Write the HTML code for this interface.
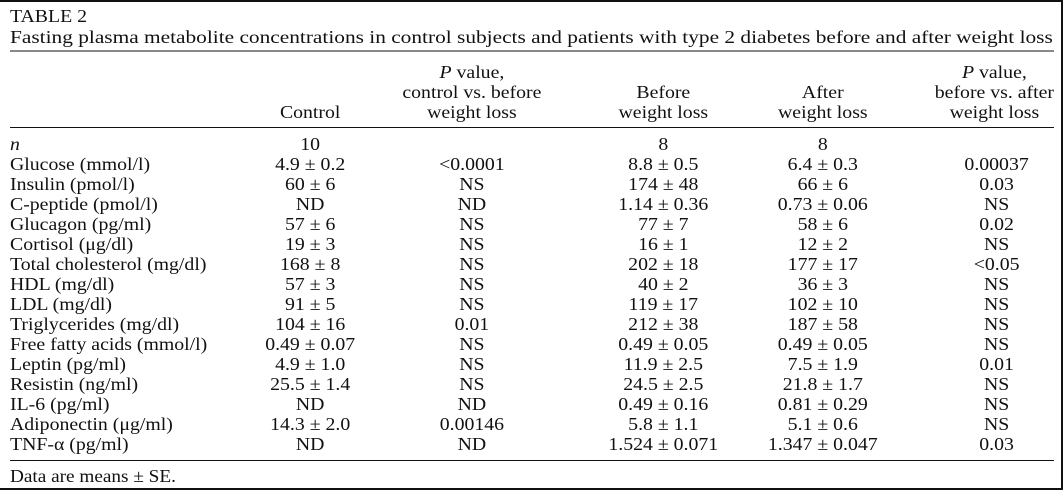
<!DOCTYPE html>
<html><head><meta charset="utf-8"><style>
body{margin:0;background:#fff;}
svg{display:block;font-family:"Liberation Serif",serif;font-size:18px;fill:#111;}
</style></head><body>
<svg width="1063" height="490" viewBox="0 0 1063 490">
<rect x="0" y="0" width="1063" height="2" fill="#111"/>
<rect x="1061" y="0" width="2" height="490" fill="#111"/>
<rect x="10" y="50" width="1044" height="2" fill="#888"/>
<rect x="10" y="127" width="1044" height="1" fill="#111"/>
<rect x="10" y="460" width="1044" height="1" fill="#111"/>
<rect x="0" y="488" width="1063" height="2" fill="#111"/>
<g transform="scale(1.1,1)">
<text x="9.1" y="22">TABLE 2</text>
<text x="9.1" y="43" textLength="948" lengthAdjust="spacingAndGlyphs">Fasting plasma metabolite concentrations in control subjects and patients with type 2 diabetes before and after weight loss</text>
<g text-anchor="middle">
<text x="282" y="118">Control</text>
<text x="429" y="78"><tspan font-style="italic">P</tspan> value,</text>
<text x="429" y="98">control vs. before</text>
<text x="429" y="118">weight loss</text>
<text x="603" y="98">Before</text>
<text x="603" y="118">weight loss</text>
<text x="748" y="98">After</text>
<text x="748" y="118">weight loss</text>
<text x="904" y="78"><tspan font-style="italic">P</tspan> value,</text>
<text x="904" y="98">before vs. after</text>
<text x="904" y="118">weight loss</text>
</g>
<g>
<text x="9.1" y="150" font-style="italic">n</text>
<text x="9.1" y="170">Glucose (mmol/l)</text>
<text x="9.1" y="190">Insulin (pmol/l)</text>
<text x="9.1" y="210">C-peptide (pmol/l)</text>
<text x="9.1" y="230">Glucagon (pg/ml)</text>
<text x="9.1" y="250">Cortisol (μg/dl)</text>
<text x="9.1" y="270">Total cholesterol (mg/dl)</text>
<text x="9.1" y="290">HDL (mg/dl)</text>
<text x="9.1" y="310">LDL (mg/dl)</text>
<text x="9.1" y="330">Triglycerides (mg/dl)</text>
<text x="9.1" y="350">Free fatty acids (mmol/l)</text>
<text x="9.1" y="370">Leptin (pg/ml)</text>
<text x="9.1" y="390">Resistin (ng/ml)</text>
<text x="9.1" y="410">IL-6 (pg/ml)</text>
<text x="9.1" y="430">Adiponectin (μg/ml)</text>
<text x="9.1" y="450">TNF-α (pg/ml)</text>
</g>
<g text-anchor="middle">
<text x="282" y="150">10</text><text x="603" y="150">8</text><text x="748" y="150">8</text>
<text x="282" y="170">4.9 ± 0.2</text><text x="429" y="170">&lt;0.0001</text><text x="603" y="170">8.8 ± 0.5</text><text x="748" y="170">6.4 ± 0.3</text><text x="906" y="170">0.00037</text>
<text x="282" y="190">60 ± 6</text><text x="429" y="190">NS</text><text x="603" y="190">174 ± 48</text><text x="748" y="190">66 ± 6</text><text x="906" y="190">0.03</text>
<text x="282" y="210">ND</text><text x="429" y="210">ND</text><text x="603" y="210">1.14 ± 0.36</text><text x="748" y="210">0.73 ± 0.06</text><text x="906" y="210">NS</text>
<text x="282" y="230">57 ± 6</text><text x="429" y="230">NS</text><text x="603" y="230">77 ± 7</text><text x="748" y="230">58 ± 6</text><text x="906" y="230">0.02</text>
<text x="282" y="250">19 ± 3</text><text x="429" y="250">NS</text><text x="603" y="250">16 ± 1</text><text x="748" y="250">12 ± 2</text><text x="906" y="250">NS</text>
<text x="282" y="270">168 ± 8</text><text x="429" y="270">NS</text><text x="603" y="270">202 ± 18</text><text x="748" y="270">177 ± 17</text><text x="906" y="270">&lt;0.05</text>
<text x="282" y="290">57 ± 3</text><text x="429" y="290">NS</text><text x="603" y="290">40 ± 2</text><text x="748" y="290">36 ± 3</text><text x="906" y="290">NS</text>
<text x="282" y="310">91 ± 5</text><text x="429" y="310">NS</text><text x="603" y="310">119 ± 17</text><text x="748" y="310">102 ± 10</text><text x="906" y="310">NS</text>
<text x="282" y="330">104 ± 16</text><text x="429" y="330">0.01</text><text x="603" y="330">212 ± 38</text><text x="748" y="330">187 ± 58</text><text x="906" y="330">NS</text>
<text x="282" y="350">0.49 ± 0.07</text><text x="429" y="350">NS</text><text x="603" y="350">0.49 ± 0.05</text><text x="748" y="350">0.49 ± 0.05</text><text x="906" y="350">NS</text>
<text x="282" y="370">4.9 ± 1.0</text><text x="429" y="370">NS</text><text x="603" y="370">11.9 ± 2.5</text><text x="748" y="370">7.5 ± 1.9</text><text x="906" y="370">0.01</text>
<text x="282" y="390">25.5 ± 1.4</text><text x="429" y="390">NS</text><text x="603" y="390">24.5 ± 2.5</text><text x="748" y="390">21.8 ± 1.7</text><text x="906" y="390">NS</text>
<text x="282" y="410">ND</text><text x="429" y="410">ND</text><text x="603" y="410">0.49 ± 0.16</text><text x="748" y="410">0.81 ± 0.29</text><text x="906" y="410">NS</text>
<text x="282" y="430">14.3 ± 2.0</text><text x="429" y="430">0.00146</text><text x="603" y="430">5.8 ± 1.1</text><text x="748" y="430">5.1 ± 0.6</text><text x="906" y="430">NS</text>
<text x="282" y="450">ND</text><text x="429" y="450">ND</text><text x="603" y="450">1.524 ± 0.071</text><text x="748" y="450">1.347 ± 0.047</text><text x="906" y="450">0.03</text>
</g>
<text x="9.1" y="482" font-size="17.5">Data are means ± SE.</text>
</g>
</svg>
</body></html>
